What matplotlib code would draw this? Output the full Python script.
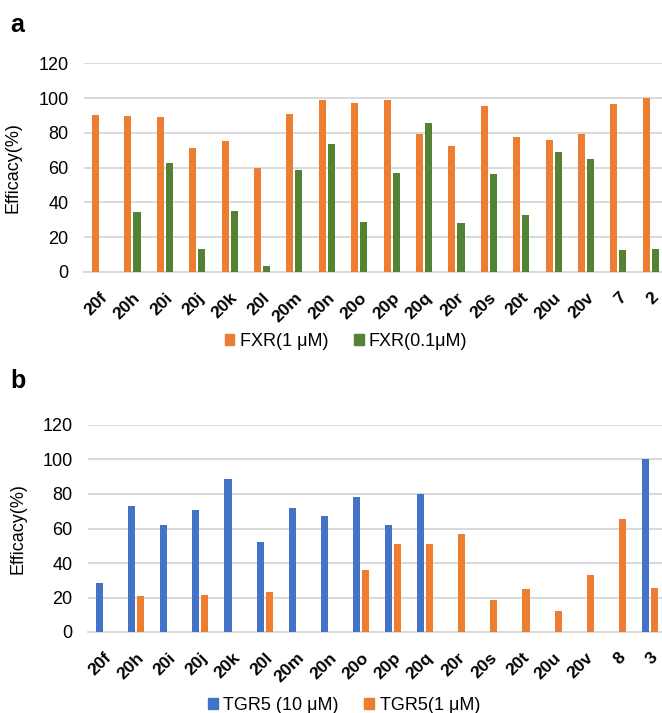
import matplotlib
matplotlib.use("Agg")
import matplotlib.pyplot as plt
from matplotlib.patches import Patch
import numpy as np

plt.rcParams['font.family'] = ['Liberation Sans', 'DejaVu Sans']

# panel a data
labels_a = ["20f", "20h", "20i", "20j", "20k", "20l", "20m", "20n", "20o",
            "20p", "20q", "20r", "20s", "20t", "20u", "20v", "7", "2"]
fxr_1uM = [90, 89.5, 89, 71.5, 75.5, 60, 91, 99, 97,
           99, 79.5, 72.5, 95.5, 77.5, 76, 79.5, 96.5, 100]
fxr_01uM = [0, 34.5, 62.5, 13.5, 35, 3.5, 58.5, 73.5, 29,
            57, 85.5, 28, 56.5, 32.5, 69, 65, 12.5, 13]

# panel b data
labels_b = ["20f", "20h", "20i", "20j", "20k", "20l", "20m", "20n", "20o",
            "20p", "20q", "20r", "20s", "20t", "20u", "20v", "8", "3"]
tgr5_10uM = [28.5, 73, 62, 71, 88.5, 52, 72, 67.5, 78.5,
             62, 80, 0, 0, 0, 0, 0, 0, 100]
tgr5_1uM = [0, 21, 0, 21.5, 0, 23, 0, 0, 36,
            51, 51, 57, 18.5, 25, 12, 33, 65.5, 25.5]

ORANGE = "#ED7D31"
GREEN = "#548235"
BLUE = "#4472C4"
GRID = "#d9d9d9"

W, H = 662, 713
fig = plt.figure(figsize=(W / 100, H / 100), dpi=100)


def px(left, right, y0, y120):
    # axes rect from pixel edges
    return [left / W, 1 - y0 / H, (right - left) / W, (y0 - y120) / H]


def panel(rect, labels, s1, s2, c1, c2, names, leg_xy, ylab_x, letter, letter_y):
    ax = fig.add_axes(rect)
    x = np.arange(len(labels))
    bw = 0.22
    ax.bar(x - 0.14, s1, width=bw, color=c1, zorder=3)
    ax.bar(x + 0.14, s2, width=bw, color=c2, zorder=3)
    ax.set_ylim(0, 120)
    ax.set_xlim(-0.5, 17.5)
    ax.set_yticks(range(0, 121, 20))
    ax.yaxis.grid(True, color=GRID, linewidth=1.4, zorder=0)
    for s in ["top", "right", "left"]:
        ax.spines[s].set_visible(False)
    ax.spines["bottom"].set_color(GRID)
    ax.spines["bottom"].set_linewidth(1.4)
    ax.tick_params(axis="both", length=0)
    ax.tick_params(axis="y", labelsize=13, pad=11)
    ax.set_xticks(x)
    ax.set_xticklabels(labels, rotation=45, ha="right", rotation_mode="anchor",
                       fontsize=12.5, fontweight="bold")
    ax.tick_params(axis="x", pad=13)
    ax.set_ylabel("Efficacy(%)", fontsize=13)
    bbox = ax.get_position()
    ax.yaxis.set_label_coords((ylab_x / W - bbox.x0) / bbox.width, 0.5)
    handles = [Patch(color=c1), Patch(color=c2)]
    fig.legend(handles, names, loc="center", bbox_to_anchor=leg_xy,
               ncol=2, frameon=False, fontsize=13, handlelength=0.55,
               handleheight=0.55, handletextpad=0.3, columnspacing=1.4)
    fig.text(10 / W, letter_y, letter, fontsize=18, fontweight="bold", va="center")
    return ax


panel(px(83.8, 667, 272, 63.3), labels_a, fxr_1uM, fxr_01uM,
      ORANGE, GREEN, ["FXR(1 μM)", "FXR(0.1μM)"], (346 / W, 1 - 341 / H),
      22, "a", 1 - 25 / H)
panel(px(88, 666, 632, 425), labels_b, tgr5_10uM, tgr5_1uM,
      BLUE, ORANGE, ["TGR5 (10 μM)", "TGR5(1 μM)"], (344 / W, 1 - 705 / H),
      26.5, "b", 1 - 381 / H)

fig.savefig("out.png", dpi=100)
